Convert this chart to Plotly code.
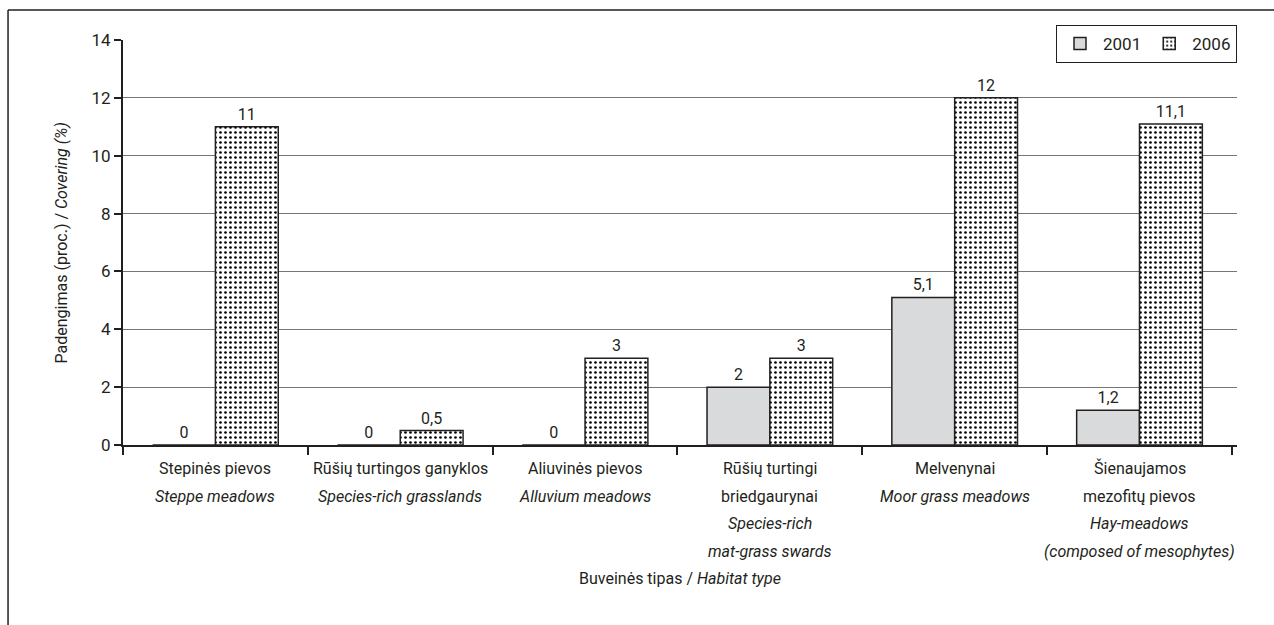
import plotly.graph_objects as go

# Habitat types (category keys) and their two-language label lines
categories = ["Stepinės pievos", "Rūšių turtingos ganyklos", "Aliuvinės pievos",
              "Rūšių turtingi briedgaurynai", "Melvenynai", "Šienaujamos mezofitų pievos"]
label_lines = [
    ["Stepinės pievos", "<i>Steppe meadows</i>"],
    ["Rūšių turtingos ganyklos", "<i>Species-rich grasslands</i>"],
    ["Aliuvinės pievos", "<i>Alluvium meadows</i>"],
    ["Rūšių turtingi", "briedgaurynai", "<i>Species-rich</i>", "<i>mat-grass swards</i>"],
    ["Melvenynai", "<i>Moor grass meadows</i>"],
    ["Šienaujamos", "mezofitų pievos", "<i>Hay-meadows</i>", "<i>(composed of mesophytes)</i>"],
]

# Covering (%) per year
cover_2001 = [0, 0, 0, 2, 5.1, 1.2]
cover_2006 = [11, 0.5, 3, 3, 12, 11.1]

y_ticks = [0, 2, 4, 6, 8, 10, 12, 14]

FONT = "Liberation Sans Narrow, Roboto, sans-serif"
INK = "#231f20"


def fmt(v):
    # decimal comma, no trailing zeros
    s = ("%g" % v)
    return s.replace(".", ",")


fig = go.Figure()
fig.add_trace(go.Bar(
    name="2001", x=categories, y=cover_2001,
    text=[fmt(v) for v in cover_2001], textposition="outside",
    marker=dict(color="#d9dadc", line=dict(color="#231f20", width=1.5)),
    textfont=dict(family=FONT, size=16, color=INK), cliponaxis=False,
))
fig.add_trace(go.Bar(
    name="2006", x=categories, y=cover_2006,
    text=[fmt(v) for v in cover_2006], textposition="outside",
    marker=dict(color="white", line=dict(color="#231f20", width=1.5),
                pattern=dict(shape=".", fgcolor="black", bgcolor="white",
                             size=5, solidity=0.22, fillmode="replace")),
    textfont=dict(family=FONT, size=16, color=INK), cliponaxis=False,
))

annotations = []
# category labels, one line each, beneath the axis
line_offsets = [23, 51, 78, 106]
for cat, lines in zip(categories, label_lines):
    for i, ln in enumerate(lines):
        annotations.append(dict(
            x=cat, xref="x", y=0, yref="paper", yanchor="middle",
            yshift=-line_offsets[i], text=ln, showarrow=False,
            font=dict(family=FONT, size=16, color=INK),
        ))

annotations.append(dict(
    x=0.5, xref="paper", y=0, yref="paper", yshift=-133, yanchor="middle",
    text="Buveinės tipas / <i>Habitat type</i>", showarrow=False,
    font=dict(family=FONT, size=16, color=INK),
))
annotations.append(dict(
    x=-0.0548, xref="paper", y=0.5, yref="paper", xanchor="center", yanchor="middle",
    textangle=-90, text="Padengimas (proc.) / <i>Covering (%)</i>", showarrow=False,
    font=dict(family=FONT, size=16, color=INK),
))

# outer frame (left and top edges)
shapes = [
    dict(type="line", xref="paper", yref="paper", x0=-0.1032, x1=-0.1032, y0=1.074, y1=-0.45,
         line=dict(color="#231f20", width=1.5)),
    dict(type="line", xref="paper", yref="paper", x0=-0.1032, x1=1.04, y0=1.074, y1=1.074,
         line=dict(color="#231f20", width=1.5)),
]

fig.update_layout(
    width=1274, height=625,
    margin=dict(l=123, r=37, t=40, b=180),
    paper_bgcolor="white", plot_bgcolor="white",
    barmode="group", bargap=0.32, bargroupgap=0,
    font=dict(family=FONT, size=16, color=INK),
    showlegend=True,
    legend=dict(orientation="h", x=1, xanchor="right", y=1.037, yanchor="top",
                bgcolor="white", bordercolor="#231f20", borderwidth=1,
                font=dict(family=FONT, size=17, color=INK),
                itemwidth=36, traceorder="normal"),
    annotations=annotations,
    shapes=shapes,
)
fig.update_xaxes(
    type="category", showticklabels=False, tickson="boundaries",
    ticks="outside", ticklen=8, tickwidth=1.5, tickcolor="#231f20",
    showline=True, linecolor="#231f20", linewidth=2, showgrid=False,
)
fig.update_yaxes(
    range=[0, 14], tickvals=y_ticks, ticktext=[str(v) for v in y_ticks],
    ticks="outside", ticklen=7, tickwidth=1.5, tickcolor="#231f20",
    showline=True, linecolor="#231f20", linewidth=2,
    showgrid=True, gridcolor="#767676", gridwidth=1, zeroline=False,
    tickfont=dict(family=FONT, size=17, color=INK),
)

fig.write_html("out.html")
